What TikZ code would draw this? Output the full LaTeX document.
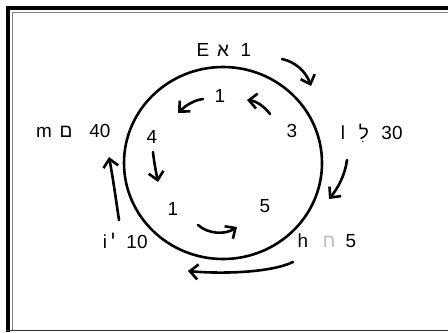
\documentclass[tikz,border=0pt]{standalone}
\usepackage{fontspec}
\setmainfont{Liberation Sans}
\newfontfamily\hebfont[Script=Hebrew]{Liberation Sans}
\TeXXeTstate=1
\usetikzlibrary{arrows.meta,shapes.geometric}
\begin{document}
\begin{tikzpicture}[x=1bp,y=-1bp,
  lbl/.style={font=\fontsize{19}{19}\selectfont, anchor=base, inner sep=0pt},
  heb/.style={lbl, font=\fontsize{19}{19}\selectfont\hebfont},
  arr/.style={line width=2.6bp, line cap=round,
    -{Straight Barb[length=8bp,width=15bp,line width=2.6bp]}},
  ringstyle/.style={draw, ellipse, line width=2.6bp, minimum width=198bp, minimum height=192bp, inner sep=0pt}]
\useasboundingbox (0,0) rectangle (448,332);
% frame
\draw[line width=4bp] (8,332) -- (8,8) -- (448,8);
\draw[gray, line width=1bp] (12.5,330) -- (12.5,12.5) -- (448,12.5);
\draw[black!80, line width=1.5bp] (6,330.5) -- (448,330.5);
% circle
\node[ringstyle] (ring) at (223,163) {};
% outer labels
\node[lbl] (tE) at (203,56) {E};
\node[heb] (tAleph) at (223,56) {\beginR א\endR};
\node[lbl] (tOne) at (246,56) {1};
\node[lbl] (tl) at (343,139) {l};
\node[heb] (tLamed) at (364,139) {\beginR לִ\endR};
\node[lbl] (tThirty) at (392,139) {30};
\node[lbl] (th) at (303,247) {h};
\node[heb, text=gray!55] (tHet) at (329,247) {\beginR ח\endR};
\node[lbl] (tFive) at (351,247) {5};
\node[lbl] (ti) at (105,248) {i};
\node[heb] (tYod) at (113,244) {\beginR י\endR};
\node[lbl] (tTen) at (137,248) {10};
\node[lbl] (tm) at (44,137) {m};
\node[heb] (tMem) at (66,137) {\beginR ם\endR};
\node[lbl] (tForty) at (100,137) {40};
% inner labels
\node[lbl] (iOne) at (220,102) {1};
\node[lbl] (iThree) at (292,137) {3};
\node[lbl] (iFour) at (152,143) {4};
\node[lbl] (iFive) at (265,212) {5};
\node[lbl] (iOneB) at (173,215) {1};
% arrow end points
\coordinate (a1s) at (282,59);  \coordinate (a1e) at (311,86);
\coordinate (a2s) at (347,160); \coordinate (a2e) at (329,199);
\coordinate (a3s) at (293,262); \coordinate (a3e) at (188,271);
\coordinate (a4s) at (119,220); \coordinate (a4e) at (109,157);
\coordinate (b1s) at (270,114); \coordinate (b1e) at (247,100);
\coordinate (b2s) at (203,99);  \coordinate (b2e) at (178,113);
\coordinate (b3s) at (153,152); \coordinate (b3e) at (158,182);
\coordinate (b4s) at (198,225); \coordinate (b4e) at (237,227);
% outer arrows (clockwise)
\draw[arr] (a1s) .. controls (296,62) and (306,72) .. (a1e);
\draw[arr] (a2s) .. controls (345,175) and (338,188) .. (a2e);
\draw[arr] (a3s) .. controls (270,273) and (220,274) .. (a3e);
\draw[arr] (a4s) .. controls (116,200) and (113,178) .. (a4e);
% inner arrows (counter-clockwise)
\draw[arr] (b1s) .. controls (264,106) and (256,101) .. (b1e);
\draw[arr] (b2s) .. controls (194,100) and (185,106) .. (b2e);
\draw[arr] (b3s) .. controls (154,162) and (156,172) .. (b3e);
\draw[arr] (b4s) .. controls (208,234) and (225,235) .. (b4e);
\end{tikzpicture}
\end{document}
